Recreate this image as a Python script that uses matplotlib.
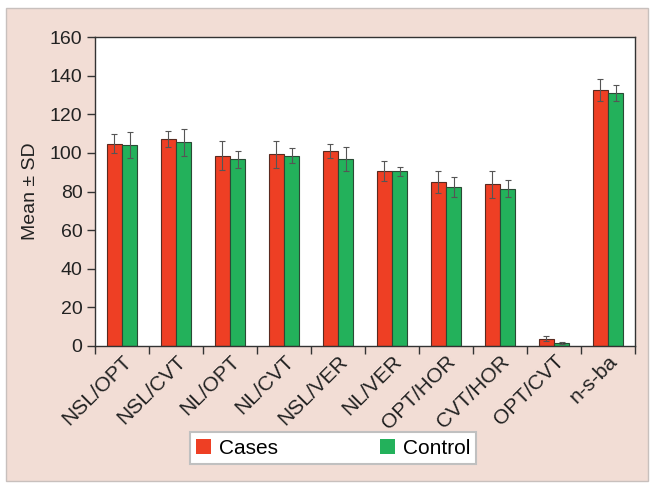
import matplotlib
matplotlib.use("Agg")
import matplotlib.pyplot as plt
import matplotlib.transforms as mtransforms
import numpy as np
from matplotlib.patches import Rectangle

categories = ["NSL/OPT", "NSL/CVT", "NL/OPT", "NL/CVT", "NSL/VER",
              "NL/VER", "OPT/HOR", "CVT/HOR", "OPT/CVT", "n-s-ba"]
cases_mean = [104.8, 107.2, 98.4, 99.2, 100.8, 90.6, 84.9, 83.7, 3.8, 132.8]
cases_sd = [4.8, 4.2, 7.5, 7.2, 3.6, 5.3, 5.8, 7.0, 1.2, 5.7]
control_mean = [104.0, 105.4, 96.6, 98.6, 96.9, 90.5, 82.3, 81.4, 1.5, 131.1]
control_sd = [6.8, 6.8, 4.3, 3.8, 6.3, 2.3, 5.0, 4.5, 0.7, 4.1]
yticks = [0, 20, 40, 60, 80, 100, 120, 140, 160]

plt.rcParams['font.family'] = ['Liberation Sans', 'DejaVu Sans']

fig = plt.figure(figsize=(6.52, 4.87), dpi=100)
fig.patch.set_facecolor('white')
fig.patches.append(Rectangle((6/652, 1 - 481/487), 642/652, 473/487,
                             transform=fig.transFigure, facecolor='#f2ddd5',
                             edgecolor='#c8c0bd', linewidth=1.0, zorder=-10))

ax = fig.add_axes([95/652, 1 - 346/487, 540/652, 309/487])
ax.set_facecolor('white')

x = np.arange(len(categories)) + 0.5
w = 0.285
red = '#ee3f24'
green = '#23b15b'
ekw = dict(ecolor='#555555', elinewidth=0.8, capsize=2.0, capthick=0.8)
ax.bar(x - w/2, cases_mean, w, color=red, edgecolor='#5a2a20', linewidth=0.8,
       yerr=cases_sd, error_kw=ekw, label='Cases', zorder=2)
ax.bar(x + w/2, control_mean, w, color=green, edgecolor='#2a4a35', linewidth=0.8,
       yerr=control_sd, error_kw=ekw, label='Control', zorder=2)

ax.set_xlim(0, len(categories))
ax.set_ylim(0, 160)
ax.set_yticks(yticks)
ax.set_xticks(np.arange(len(categories) + 1))
ax.set_xticklabels([])
ax.set_xticks(x, minor=True)
ax.set_xticklabels(categories, minor=True, rotation=45, ha='right',
                   rotation_mode='anchor', fontsize=15, color='#222222')
offset = mtransforms.ScaledTranslation(6/100, -5/100, fig.dpi_scale_trans)
for lab in ax.get_xticklabels(minor=True):
    lab.set_transform(lab.get_transform() + offset)
ax.tick_params(axis='x', which='minor', length=0, pad=4)
ax.tick_params(axis='x', which='major', length=6, width=1, color='#333333', direction='out')
ax.tick_params(axis='y', length=6, width=1, color='#333333', labelsize=14,
               labelcolor='#222222', pad=3)
for s in ax.spines.values():
    s.set_color('#333333')
    s.set_linewidth(1.0)

ax.set_ylabel('Mean ± SD', fontsize=14, color='#222222', labelpad=8)

leg = fig.legend(loc='center', bbox_to_anchor=(333/652, 1 - 448/487), ncol=2,
                 fontsize=15, frameon=True, fancybox=False, edgecolor='#c0c0c0',
                 facecolor='white', framealpha=1, columnspacing=4.9,
                 handlelength=0.75, handleheight=0.75, handletextpad=0.35,
                 borderpad=0.3, borderaxespad=0)
leg.get_frame().set_linewidth(1.5)
for h in leg.legend_handles:
    h.set_edgecolor('none')

fig.savefig('out.png', dpi=100, facecolor=fig.get_facecolor())
